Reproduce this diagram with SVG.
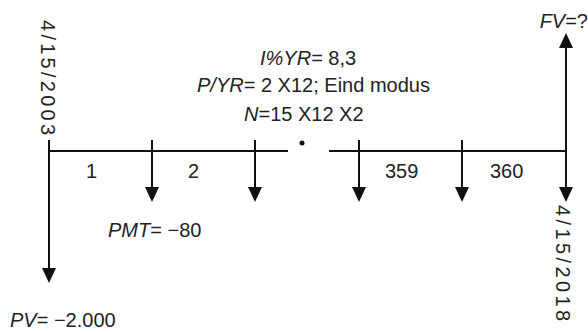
<svg xmlns="http://www.w3.org/2000/svg" width="588" height="332" viewBox="0 0 588 332">
<defs>
<marker id="ah" viewBox="0 0 15 14" refX="9" refY="7" markerWidth="15" markerHeight="14" markerUnits="userSpaceOnUse" orient="auto">
<path d="M0,0 L15,7 L0,14 z" fill="#111"/>
</marker>
<style>
.ln{stroke:#111;stroke-width:2;fill:none}
.ar{stroke:#111;stroke-width:2;fill:none;marker-end:url(#ah)}
text{font-family:"Liberation Sans",Arial,sans-serif;font-size:20px;fill:#222}
.v{font-style:italic}
</style>
</defs>
<rect width="588" height="332" fill="#fff"/>
<g id="connectors">
<line class="ln" x1="49" y1="151" x2="288" y2="151"/>
<line class="ln" x1="329" y1="151" x2="566" y2="151"/>
<line class="ar" x1="49" y1="140" x2="49" y2="277"/>
<line class="ar" x1="152" y1="140" x2="152" y2="196"/>
<line class="ar" x1="255" y1="140" x2="255" y2="196"/>
<line class="ar" x1="359" y1="140" x2="359" y2="196"/>
<line class="ar" x1="462" y1="140" x2="462" y2="196"/>
<line class="ar" x1="566" y1="150" x2="566" y2="196"/>
<line class="ar" x1="566" y1="152" x2="566" y2="39"/>
<circle cx="302" cy="143" r="2.5" fill="#111"/>
</g>
<g id="start-date"><text transform="translate(41,20) rotate(90)" textLength="115" lengthAdjust="spacing">4/15/2003</text></g>
<g id="end-date"><text transform="translate(556,205) rotate(90)" textLength="116" lengthAdjust="spacing">4/15/2018</text></g>
<g id="params">
<text x="260" y="65"><tspan class="v">I%YR</tspan>= 8,3</text>
<text x="197" y="92"><tspan class="v">P/YR</tspan>= 2 X12; Eind modus</text>
<text x="244" y="121"><tspan class="v">N</tspan>=15 X12 X2</text>
</g>
<g id="period-labels">
<text x="86" y="178">1</text>
<text x="188" y="178">2</text>
<text x="385" y="178">359</text>
<text x="490" y="178">360</text>
</g>
<g id="pmt"><text x="108" y="237"><tspan class="v">PMT</tspan>= −80</text></g>
<g id="pv"><text x="10" y="327"><tspan class="v">PV</tspan>= −2.000</text></g>
<g id="fv"><text x="588" y="28" text-anchor="end"><tspan class="v">FV</tspan>=?</text></g>
</svg>
